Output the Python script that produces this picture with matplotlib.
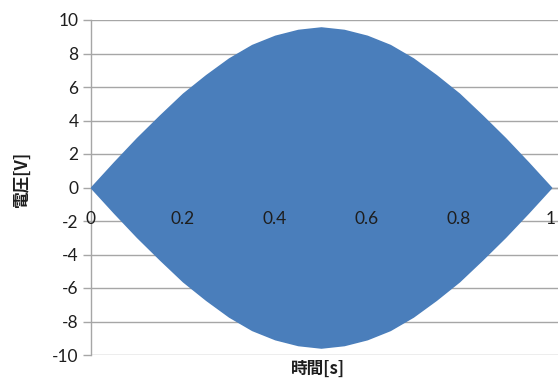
import matplotlib
matplotlib.use("Agg")
import matplotlib.pyplot as plt

# Envelope of the modulated voltage signal (V), sampled every 0.05 s
time_s = [0.00, 0.05, 0.10, 0.15, 0.20, 0.25, 0.30, 0.35, 0.40, 0.45, 0.50,
          0.55, 0.60, 0.65, 0.70, 0.75, 0.80, 0.85, 0.90, 0.95, 1.00]
upper_v = [0.0, 1.5, 2.95, 4.3, 5.6, 6.7, 7.7, 8.5, 9.05, 9.4, 9.55,
           9.4, 9.05, 8.5, 7.7, 6.7, 5.6, 4.3, 2.95, 1.5, 0.0]
lower_v = [-0.0, -1.5, -2.95, -4.3, -5.6, -6.7, -7.7, -8.5, -9.05, -9.4, -9.55,
           -9.4, -9.05, -8.5, -7.7, -6.7, -5.6, -4.3, -2.95, -1.5, -0.0]

x_ticks = [0, 0.2, 0.4, 0.6, 0.8, 1]
x_tick_labels = ["0", "0.2", "0.4", "0.6", "0.8", "1"]
y_ticks = [-10, -8, -6, -4, -2, 0, 2, 4, 6, 8, 10]

FILL = "#4A7EBB"
GRID = "#A6A6A6"
TXT = "#1E1E1E"

fig = plt.figure(figsize=(5.58, 3.80), dpi=100)
ax = fig.add_axes([91 / 558, 25 / 380, 467 / 558, 335 / 380])

ax.fill_between(time_s, lower_v, upper_v, color=FILL, linewidth=1.2,
                edgecolor=FILL, zorder=3)

ax.set_xlim(0, 467 / 460)
ax.set_ylim(-10, 10)

ax.set_yticks(y_ticks)
ax.set_yticklabels([str(v) for v in y_ticks])
ax.set_xticks(x_ticks)
ax.set_xticklabels(x_tick_labels)

ax.grid(axis="y", color=GRID, linewidth=1.0, zorder=0)
ax.grid(axis="x", visible=False)
ax.set_axisbelow(True)

for side in ("top", "right"):
    ax.spines[side].set_visible(False)
ax.spines["left"].set_color(GRID)
ax.spines["left"].set_linewidth(1.0)
ax.spines["left"].set_zorder(1)
ax.spines["bottom"].set_position(("data", 0))
ax.spines["bottom"].set_color(GRID)
ax.spines["bottom"].set_linewidth(1.0)
ax.spines["bottom"].set_zorder(1)

ax.tick_params(axis="y", direction="out", length=6, width=1.0, color=GRID,
               labelsize=12.5, labelcolor=TXT, pad=3)
ax.tick_params(axis="x", length=0, labelsize=12.5, labelcolor=TXT, pad=17)
for lab in ax.get_xticklabels() + ax.get_yticklabels():
    lab.set_fontfamily("Lato")

# x tick labels sit on top of the filled signal
ax.xaxis.set_zorder(5)

cjk = ["Noto Sans CJK JP", "DejaVu Sans"]
fig.text(22 / 558, 1 - 180 / 380, "電圧[V]", rotation=90, ha="center",
         va="center", fontsize=12, fontweight="bold", family=cjk, color=TXT)
fig.text(318 / 558, 1 - 369 / 380, "時間[s]", ha="center", va="center",
         fontsize=12, fontweight="bold", family=cjk, color=TXT)

fig.savefig("out.png", dpi=100)
